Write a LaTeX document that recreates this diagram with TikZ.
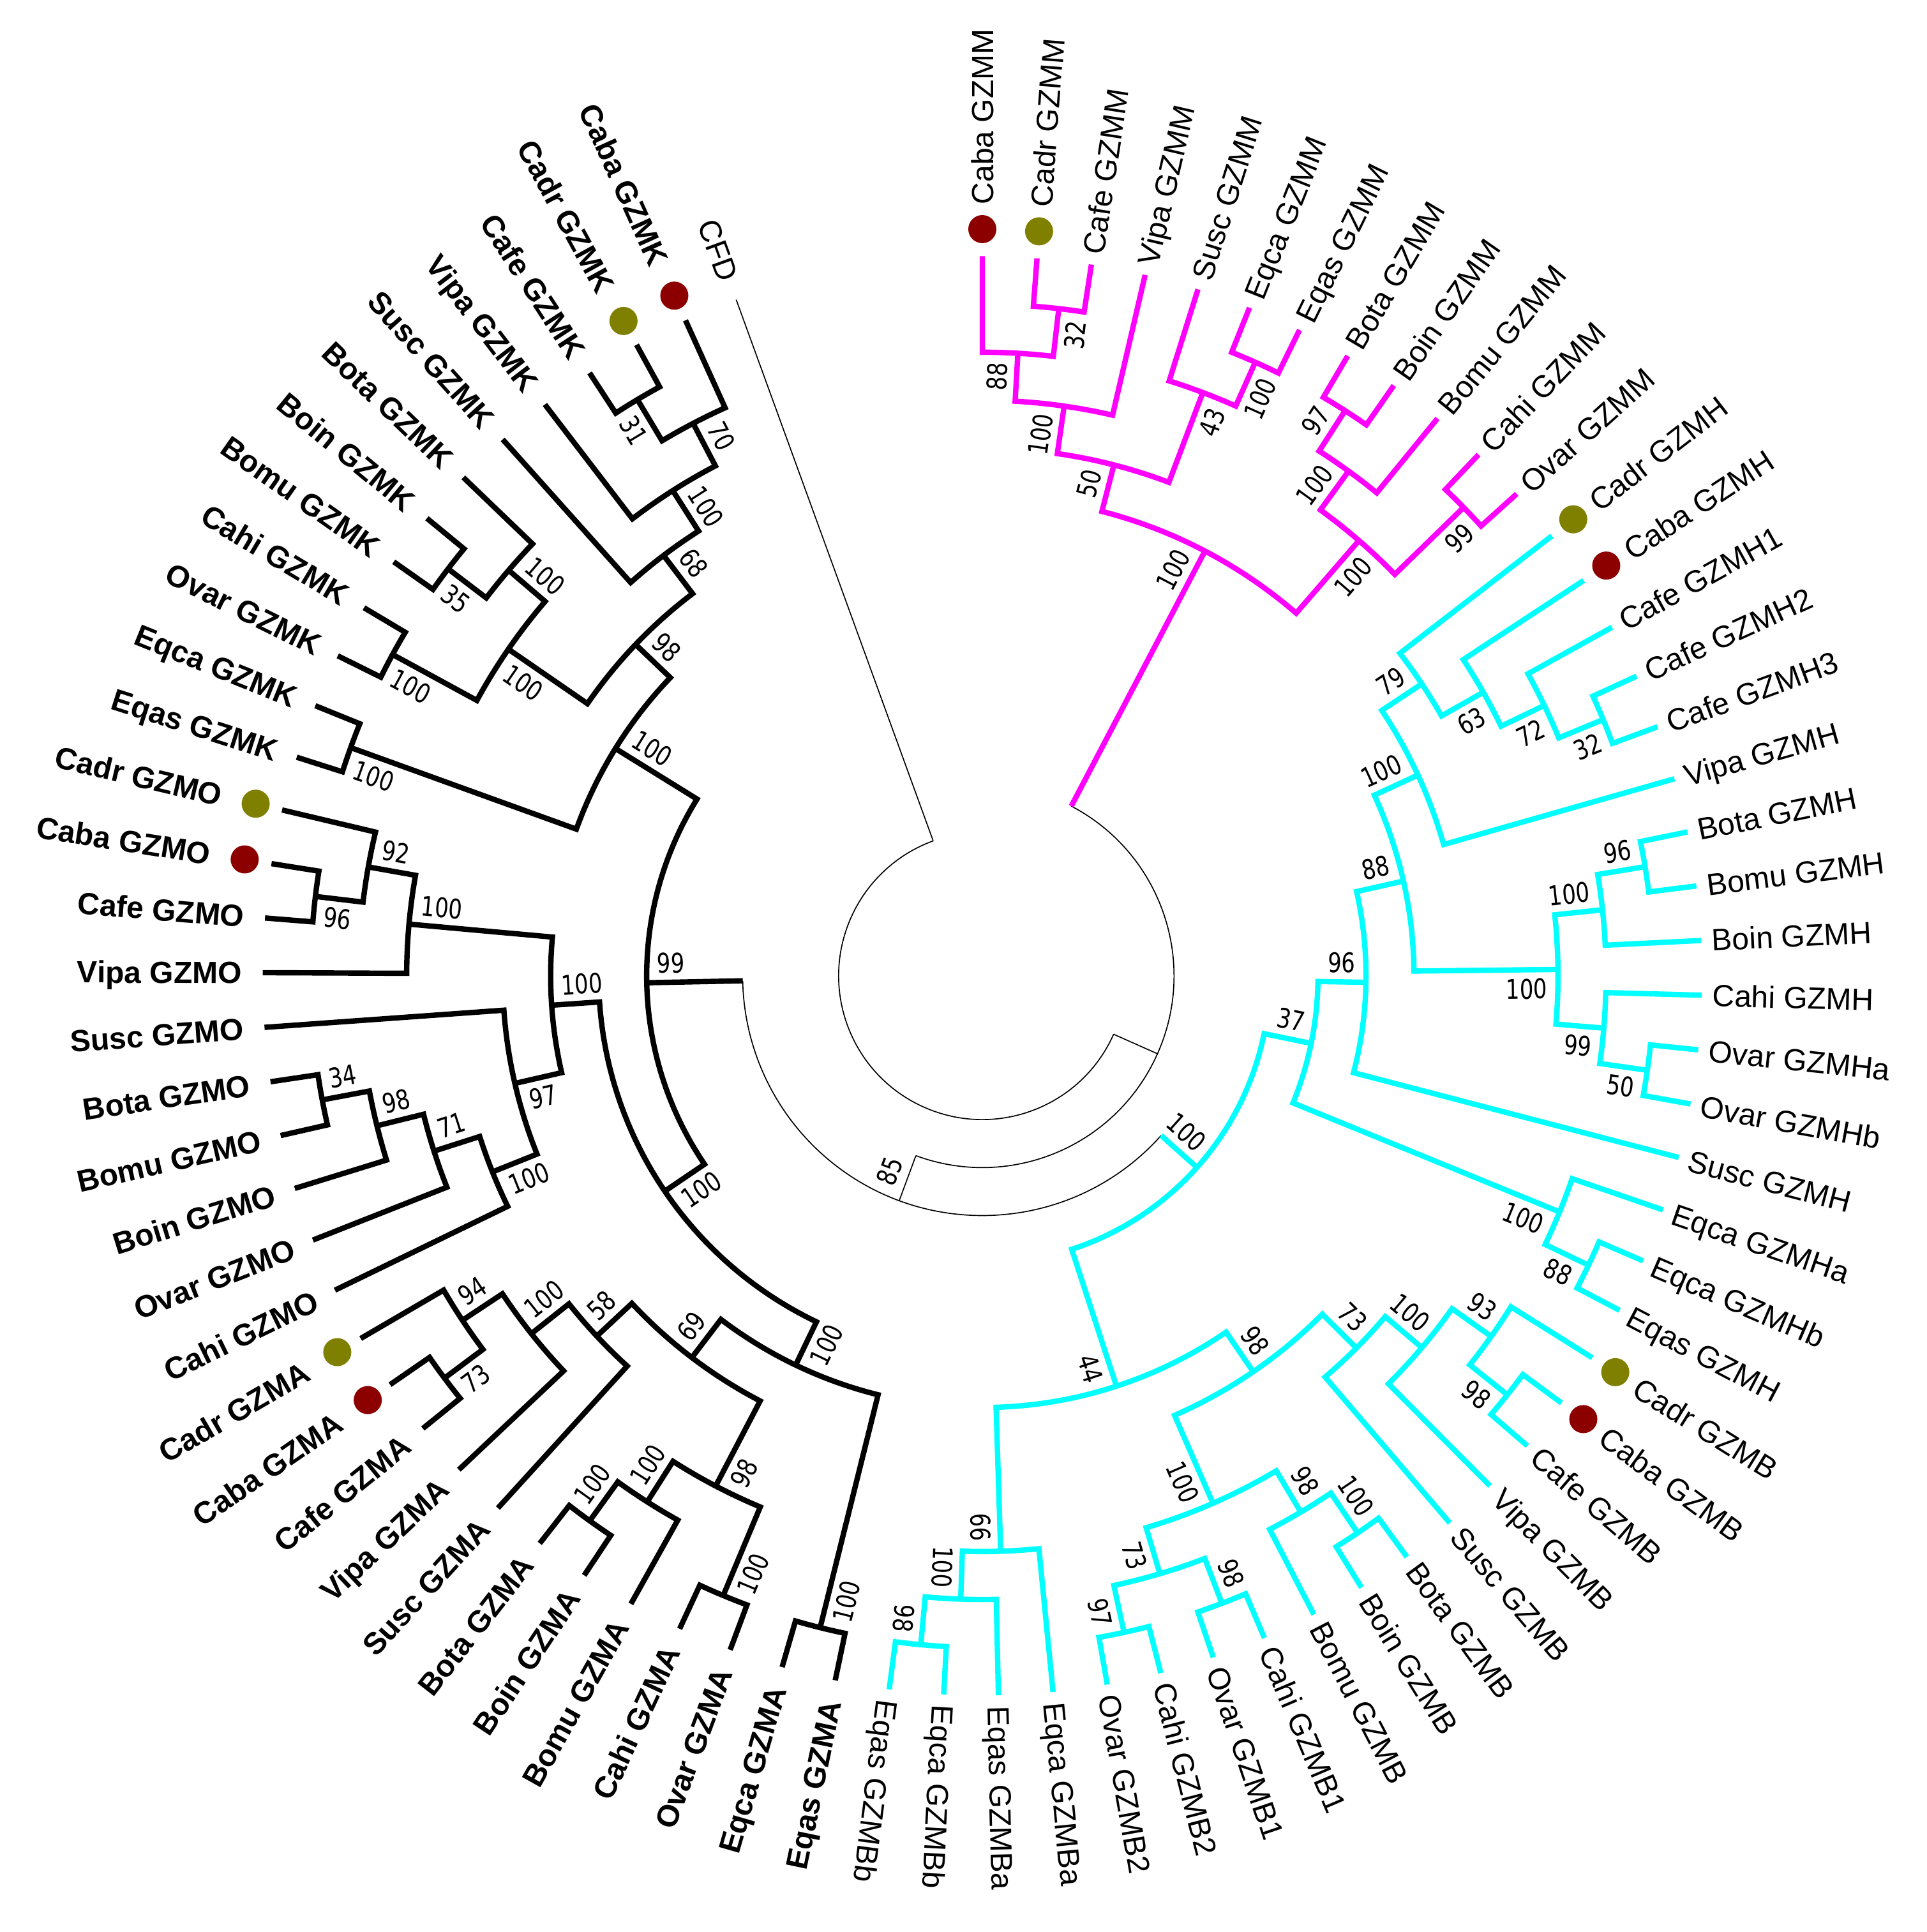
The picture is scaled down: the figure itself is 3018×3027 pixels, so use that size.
\documentclass[tikz,border=0pt]{standalone}
\usepackage{fontspec}
\setmainfont{Liberation Sans}
\newfontfamily\bsfont[FakeStretch=0.8]{DejaVu Sans}
\definecolor{dotred}{RGB}{140,0,0}
\definecolor{dotolive}{RGB}{128,128,0}
\definecolor{cy}{RGB}{0,255,255}
\definecolor{mg}{RGB}{255,0,255}
\def\T{1127.5}
\def\S{75.2}
\def\D{4.358974}
\newcommand\setA[2]{\expandafter\xdef\csname TA-#1\endcsname{#2}}
\newcommand\setR[2]{\expandafter\xdef\csname TR-#1\endcsname{#2}}
\newcommand\getA[1]{\csname TA-#1\endcsname}
\newcommand\getR[1]{\csname TR-#1\endcsname}
% internal node: name, child1, child2, height, style
\newcommand\tnode[5]{%
  \edef\cAa{\getA{#2}}\edef\cRa{\getR{#2}}%
  \edef\cAb{\getA{#3}}\edef\cRb{\getR{#3}}%
  \pgfmathsetmacro\nAng{(\cAa+\cAb)/2}%
  \pgfmathsetmacro\nRad{\T-\S*#4}%
  \setA{#1}{\nAng}\setR{#1}{\nRad}%
  \coordinate (#1) at (\nAng:\nRad);
  \draw[#5] (\cAa:\cRa) -- (\cAa:\nRad) arc[start angle=\cAa, end angle=\cAb, radius=\nRad] -- (\cAb:\cRb);
}
% backbone node with thin arc: name, child1, child2, height, style1, style2
\newcommand\snode[6]{%
  \edef\cAa{\getA{#2}}\edef\cRa{\getR{#2}}%
  \edef\cAb{\getA{#3}}\edef\cRb{\getR{#3}}%
  \pgfmathsetmacro\nAng{(\cAa+\cAb)/2}%
  \pgfmathsetmacro\nRad{\T-\S*#4}%
  \setA{#1}{\nAng}\setR{#1}{\nRad}%
  \coordinate (#1) at (\nAng:\nRad);
  \draw[thinl] (\cAa:\nRad) arc[start angle=\cAa, end angle=\cAb, radius=\nRad];
  \draw[#5] (\cAa:\nRad) -- (\cAa:\cRa);
  \draw[#6] (\cAb:\nRad) -- (\cAb:\cRb);
}
% bootstrap label: node, text, side (1 = ccw, -1 = cw)
\newcommand\bs[3]{%
  \edef\bA{\getA{#1}}\edef\bR{\getR{#1}}%
  \pgfmathsetmacro\bx{\bR-16}%
  \pgfmathsetmacro\by{#3*14}%
  \pgfmathtruncatemacro\bflip{\bA<-100}%
  \ifnum\bflip=1
    \pgfmathsetmacro\brot{\bA+180}%
    \ifnum#3>0 \def\banc{north west}\else\def\banc{south west}\fi
  \else
    \let\brot\bA
    \ifnum#3>0 \def\banc{south east}\else\def\banc{north east}\fi
  \fi
  \begin{scope}[rotate=\bA]
    \node[bslab,anchor=\banc,rotate=\brot] (B#1) at (\bx,\by) {#2};
  \end{scope}
}
% leaf label: index, text, style, dot (0 none, 1 red, 2 olive)
\newcommand\lab[4]{%
  \edef\lA{\getA{L#1}}%
  \ifnum#4=1 \fill[dotred] (\lA:1170) circle[radius=22];\fi
  \ifnum#4=2 \fill[dotolive] (\lA:1170) circle[radius=22];\fi
  \ifnum#1<44
    \ifnum#4=0 \def\lr{1143.5}\else\def\lr{1208}\fi
    \node[#3,anchor=west,rotate=\lA] (T#1) at (\lA:\lr) {#2};
  \else
    \ifnum#4=0 \def\lr{1159.5}\else\def\lr{1224}\fi
    \pgfmathsetmacro\lrot{\lA+180}%
    \node[#3,anchor=east,rotate=\lrot] (T#1) at (\lA:\lr) {#2};
  \fi
}
\tikzset{
  base/.style={line width=2.1pt, line join=miter, line cap=butt},
  mline/.style={base, draw=mg},
  cline/.style={base, draw=cy},
  kline/.style={base, draw=black},
  thinl/.style={line width=0.42pt, draw=black},
  labn/.style={font=\fontsize{12pt}{14pt}\selectfont, inner sep=0pt, text height=8.6pt, text depth=0pt},
  labb/.style={font=\fontsize{12pt}{14pt}\selectfont\bfseries, inner sep=0pt, text height=8.6pt, text depth=0pt},
  bslab/.style={font=\bsfont\fontsize{10.6pt}{12pt}\selectfont, inner sep=0pt, text height=7.7pt, text depth=0pt}
}
\begin{document}
\begin{tikzpicture}[x=0.25pt, y=0.25pt]
\fill[white] (-1539,-1498) rectangle (1479,1529);
\useasboundingbox (-1539,-1498) rectangle (1479,1529);
\foreach \i in {0,...,78}{%
  \pgfmathsetmacro\tmp{90-\D*\i}%
  \setA{L\i}{\tmp}\setR{L\i}{\T}%
  \coordinate (L\i) at (\tmp:\T);
}
% ---- GZMM (magenta)
\tnode{n32m}{L1}{L2}{1}{mline}
\tnode{n88m}{L0}{n32m}{2}{mline}
\tnode{n100m}{n88m}{L3}{3}{mline}
\tnode{n100q}{L5}{L6}{1}{mline}
\tnode{n43m}{L4}{n100q}{2}{mline}
\tnode{n50m}{n100m}{n43m}{4}{mline}
\tnode{n97m}{L7}{L8}{1}{mline}
\tnode{n100bm}{n97m}{L9}{2}{mline}
\tnode{n99m}{L10}{L11}{1}{mline}
\tnode{n100x}{n100bm}{n99m}{3}{mline}
\tnode{nM}{n50m}{n100x}{5}{mline}
% ---- GZMH (cyan)
\tnode{h32}{L15}{L16}{1}{cline}
\tnode{h72}{L14}{h32}{2}{cline}
\tnode{h63}{L13}{h72}{3}{cline}
\tnode{h79}{L12}{h63}{4}{cline}
\tnode{h100a}{h79}{L17}{5}{cline}
\tnode{h96b}{L18}{L19}{1}{cline}
\tnode{h100b}{h96b}{L20}{2}{cline}
\tnode{h50}{L22}{L23}{1}{cline}
\tnode{h99}{L21}{h50}{2}{cline}
\tnode{h6}{h100b}{h99}{3}{cline}
\tnode{h88}{h100a}{h6}{6}{cline}
\tnode{h96}{h88}{L24}{7}{cline}
\tnode{h88e}{L26}{L27}{1}{cline}
\tnode{hEq}{L25}{h88e}{2}{cline}
\tnode{h37}{h96}{hEq}{8}{cline}
% ---- GZMB (cyan)
\tnode{b98B}{L29}{L30}{1}{cline}
\tnode{b93}{L28}{b98B}{2}{cline}
\tnode{b100v}{b93}{L31}{3}{cline}
\tnode{b73}{b100v}{L32}{4}{cline}
\tnode{b100bb}{L33}{L34}{1}{cline}
\tnode{b98bb}{b100bb}{L35}{2}{cline}
\tnode{b98o}{L36}{L37}{1}{cline}
\tnode{b97}{L38}{L39}{1}{cline}
\tnode{b73b}{b98o}{b97}{2}{cline}
\tnode{b100s}{b98bb}{b73b}{3}{cline}
\tnode{b98}{b73}{b100s}{5}{cline}
\tnode{b98e}{L42}{L43}{1}{cline}
\tnode{b100e}{L41}{b98e}{2}{cline}
\tnode{b66}{L40}{b100e}{3}{cline}
\tnode{b44}{b98}{b66}{6}{cline}
\tnode{nC}{h37}{b44}{9}{cline}
% ---- GZMA (black)
\tnode{a73}{L53}{L54}{1}{kline}
\tnode{a94}{a73}{L55}{2}{kline}
\tnode{a100}{L52}{a94}{3}{kline}
\tnode{a58}{L51}{a100}{4}{kline}
\tnode{a100bb}{L49}{L50}{1}{kline}
\tnode{a100c}{L48}{a100bb}{2}{kline}
\tnode{aCO}{L46}{L47}{1}{kline}
\tnode{a98}{aCO}{a100c}{3}{kline}
\tnode{a69}{a98}{a58}{5}{kline}
\tnode{aEq}{L44}{L45}{1}{kline}
\tnode{GA}{aEq}{a69}{6}{kline}
% ---- GZMO (black)
\tnode{o96}{L63}{L64}{1}{kline}
\tnode{o92}{o96}{L65}{2}{kline}
\tnode{o100}{L62}{o92}{3}{kline}
\tnode{o34}{L59}{L60}{1}{kline}
\tnode{o98}{L58}{o34}{2}{kline}
\tnode{o71}{L57}{o98}{3}{kline}
\tnode{o100c}{L56}{o71}{4}{kline}
\tnode{o97}{o100c}{L61}{5}{kline}
\tnode{GO}{o97}{o100}{6}{kline}
\tnode{OA}{GA}{GO}{7}{kline}
% ---- GZMK (black)
\tnode{kCO}{L68}{L69}{1}{kline}
\tnode{k35}{L70}{L71}{1}{kline}
\tnode{kB}{k35}{L72}{2}{kline}
\tnode{kBC}{kCO}{kB}{3}{kline}
\tnode{k31}{L75}{L76}{1}{kline}
\tnode{k70}{k31}{L77}{2}{kline}
\tnode{k100v}{L74}{k70}{3}{kline}
\tnode{k68}{L73}{k100v}{4}{kline}
\tnode{k98}{kBC}{k68}{5}{kline}
\tnode{kEq}{L66}{L67}{1}{kline}
\tnode{K0}{kEq}{k98}{6}{kline}
\tnode{B0}{OA}{K0}{8}{kline}
% ---- backbone
\snode{N2}{nC}{B0}{10}{cline}{kline}
\snode{N1}{nM}{N2}{11}{mline}{thinl}
\snode{R}{N1}{L78}{12}{thinl}{thinl}
% ---- bootstrap values
\bs{n32m}{32}{-1}\bs{n88m}{88}{1}\bs{n100m}{100}{1}\bs{n100q}{100}{-1}
\bs{n43m}{43}{-1}\bs{n50m}{50}{1}\bs{n97m}{97}{1}\bs{n100bm}{100}{1}
\bs{n99m}{99}{-1}\bs{n100x}{100}{-1}\bs{nM}{100}{1}
\bs{h32}{32}{-1}\bs{h72}{72}{-1}\bs{h63}{63}{-1}\bs{h79}{79}{1}
\bs{h100a}{100}{1}\bs{h96b}{96}{1}\bs{h100b}{100}{1}\bs{h50}{50}{-1}
\bs{h99}{99}{-1}\bs{h6}{100}{-1}\bs{h88}{88}{1}\bs{h96}{96}{1}
\bs{h88e}{88}{-1}\bs{hEq}{100}{-1}\bs{h37}{37}{1}
\bs{b98B}{98}{-1}\bs{b93}{93}{1}\bs{b100v}{100}{1}\bs{b73}{73}{1}
\bs{b100bb}{100}{1}\bs{b98bb}{98}{1}\bs{b98o}{98}{1}\bs{b97}{97}{-1}
\bs{b73b}{73}{-1}\bs{b100s}{100}{-1}\bs{b98}{98}{1}\bs{b98e}{98}{-1}
\bs{b100e}{100}{-1}\bs{b66}{66}{-1}\bs{b44}{44}{-1}\bs{nC}{100}{1}
\bs{a73}{73}{1}\bs{a94}{94}{-1}\bs{a100}{100}{-1}\bs{a58}{58}{-1}
\bs{a100bb}{100}{-1}\bs{a100c}{100}{-1}\bs{aCO}{100}{1}\bs{a98}{98}{1}
\bs{a69}{69}{-1}\bs{aEq}{100}{1}\bs{GA}{100}{1}
\bs{o96}{96}{1}\bs{o92}{92}{-1}\bs{o100}{100}{-1}\bs{o34}{34}{-1}
\bs{o98}{98}{-1}\bs{o71}{71}{-1}\bs{o100c}{100}{1}\bs{o97}{97}{1}
\bs{GO}{100}{-1}\bs{OA}{100}{1}
\bs{kCO}{100}{1}\bs{k35}{35}{1}\bs{kB}{100}{-1}\bs{kBC}{100}{1}
\bs{k31}{31}{1}\bs{k70}{70}{-1}\bs{k100v}{100}{-1}\bs{k68}{68}{-1}
\bs{k98}{98}{-1}\bs{kEq}{100}{1}\bs{K0}{100}{-1}\bs{B0}{99}{-1}
\bs{N2}{85}{-1}
% ---- leaf labels
\lab{0}{Caba GZMM}{labn}{1}
\lab{1}{Cadr GZMM}{labn}{2}
\lab{2}{Cafe GZMM}{labn}{0}
\lab{3}{Vipa GZMM}{labn}{0}
\lab{4}{Susc GZMM}{labn}{0}
\lab{5}{Eqca GZMM}{labn}{0}
\lab{6}{Eqas GZMM}{labn}{0}
\lab{7}{Bota GZMM}{labn}{0}
\lab{8}{Boin GZMM}{labn}{0}
\lab{9}{Bomu GZMM}{labn}{0}
\lab{10}{Cahi GZMM}{labn}{0}
\lab{11}{Ovar GZMM}{labn}{0}
\lab{12}{Cadr GZMH}{labn}{2}
\lab{13}{Caba GZMH}{labn}{1}
\lab{14}{Cafe GZMH1}{labn}{0}
\lab{15}{Cafe GZMH2}{labn}{0}
\lab{16}{Cafe GZMH3}{labn}{0}
\lab{17}{Vipa GZMH}{labn}{0}
\lab{18}{Bota GZMH}{labn}{0}
\lab{19}{Bomu GZMH}{labn}{0}
\lab{20}{Boin GZMH}{labn}{0}
\lab{21}{Cahi GZMH}{labn}{0}
\lab{22}{Ovar GZMHa}{labn}{0}
\lab{23}{Ovar GZMHb}{labn}{0}
\lab{24}{Susc GZMH}{labn}{0}
\lab{25}{Eqca GZMHa}{labn}{0}
\lab{26}{Eqca GZMHb}{labn}{0}
\lab{27}{Eqas GZMH}{labn}{0}
\lab{28}{Cadr GZMB}{labn}{2}
\lab{29}{Caba GZMB}{labn}{1}
\lab{30}{Cafe GZMB}{labn}{0}
\lab{31}{Vipa GZMB}{labn}{0}
\lab{32}{Susc GZMB}{labn}{0}
\lab{33}{Bota GZMB}{labn}{0}
\lab{34}{Boin GZMB}{labn}{0}
\lab{35}{Bomu GZMB}{labn}{0}
\lab{36}{Cahi GZMB1}{labn}{0}
\lab{37}{Ovar GZMB1}{labn}{0}
\lab{38}{Cahi GZMB2}{labn}{0}
\lab{39}{Ovar GZMB2}{labn}{0}
\lab{40}{Eqca GZMBa}{labn}{0}
\lab{41}{Eqas GZMBa}{labn}{0}
\lab{42}{Eqca GZMBb}{labn}{0}
\lab{43}{Eqas GZMBb}{labn}{0}
\lab{44}{Eqas GZMA}{labb}{0}
\lab{45}{Eqca GZMA}{labb}{0}
\lab{46}{Ovar GZMA}{labb}{0}
\lab{47}{Cahi GZMA}{labb}{0}
\lab{48}{Bomu GZMA}{labb}{0}
\lab{49}{Boin GZMA}{labb}{0}
\lab{50}{Bota GZMA}{labb}{0}
\lab{51}{Susc GZMA}{labb}{0}
\lab{52}{Vipa GZMA}{labb}{0}
\lab{53}{Cafe GZMA}{labb}{0}
\lab{54}{Caba GZMA}{labb}{1}
\lab{55}{Cadr GZMA}{labb}{2}
\lab{56}{Cahi GZMO}{labb}{0}
\lab{57}{Ovar GZMO}{labb}{0}
\lab{58}{Boin GZMO}{labb}{0}
\lab{59}{Bomu GZMO}{labb}{0}
\lab{60}{Bota GZMO}{labb}{0}
\lab{61}{Susc GZMO}{labb}{0}
\lab{62}{Vipa GZMO}{labb}{0}
\lab{63}{Cafe GZMO}{labb}{0}
\lab{64}{Caba GZMO}{labb}{1}
\lab{65}{Cadr GZMO}{labb}{2}
\lab{66}{Eqas GZMK}{labb}{0}
\lab{67}{Eqca GZMK}{labb}{0}
\lab{68}{Ovar GZMK}{labb}{0}
\lab{69}{Cahi GZMK}{labb}{0}
\lab{70}{Bomu GZMK}{labb}{0}
\lab{71}{Boin GZMK}{labb}{0}
\lab{72}{Bota GZMK}{labb}{0}
\lab{73}{Susc GZMK}{labb}{0}
\lab{74}{Vipa GZMK}{labb}{0}
\lab{75}{Cafe GZMK}{labb}{0}
\lab{76}{Cadr GZMK}{labb}{2}
\lab{77}{Caba GZMK}{labb}{1}
\lab{78}{CFD}{labn}{0}
\end{tikzpicture}
\end{document}
